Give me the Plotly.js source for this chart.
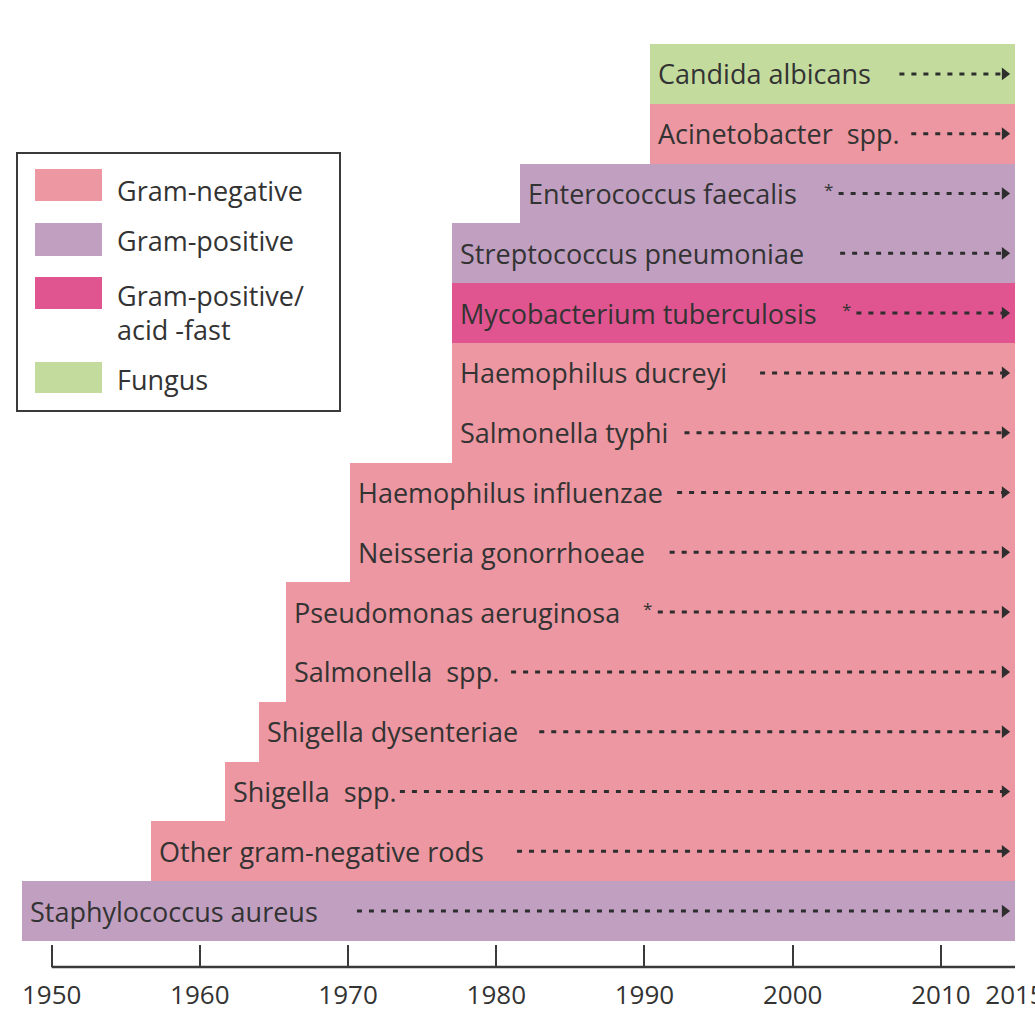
<!DOCTYPE html>
<html>
<head>
<meta charset="utf-8">
<script src="https://cdn.plot.ly/plotly-3.0.1.min.js"></script>
<style>html,body{margin:0;padding:0;background:#fff;overflow:hidden;}#chart{width:1035px;height:1017px;}</style>
</head>
<body>
<div id="chart"></div>
<script>
// ---- data (bottom row first) ----
var organisms = [
  "Staphylococcus aureus",
  "Other gram-negative rods",
  "Shigella\u00a0\u00a0spp.",
  "Shigella dysenteriae",
  "Salmonella\u00a0\u00a0spp.",
  "Pseudomonas aeruginosa",
  "Neisseria gonorrhoeae",
  "Haemophilus influenzae",
  "Salmonella typhi",
  "Haemophilus ducreyi",
  "Mycobacterium tuberculosis",
  "Streptococcus pneumoniae",
  "Enterococcus faecalis",
  "Acinetobacter\u00a0\u00a0spp.",
  "Candida albicans"
];
var groups = ["pos","neg","neg","neg","neg","neg","neg","neg","neg","neg","acid","pos","pos","neg","fungus"];
var startYear = [1948, 1956.7, 1961.7, 1964, 1965.8, 1965.8, 1970.1, 1970.1, 1977, 1977, 1977, 1977, 1981.6, 1990.4, 1990.4];
var endYear = 2015;
var arrowStart = [1970.6, 1981.4, 1973.5, 1982.9, 1981.0, 1990.9, 1991.7, 1992.2, 1992.7, 1997.8, 2004.3, 2003.2, 2003.1, 2008.0, 2007.2];
var asterisk = [false,false,false,false,false,true,false,false,false,false,true,false,true,false,false];
var asteriskYear = [null,null,null,null,null,1990.2,null,null,null,null,2003.6,null,2002.4,null,null];
var arrowEnd = 2014.3;

var groupNames = {neg:"Gram-negative", pos:"Gram-positive", acid:"Gram-positive/<br>acid -fast", fungus:"Fungus"};
var groupOrder = ["neg","pos","acid","fungus"];
var groupColors = {neg:"#ec97a1", pos:"#c19fc1", acid:"#e05590", fungus:"#c3dc9e"};
var tickYears = [1950,1960,1970,1980,1990,2000,2010,2015];

// ---- geometry helpers for layout (pixels -> paper) ----
var W = 1035, H = 1017, ML = 22, MR = 20, MT = 44, MB = 50;
var PW = W - ML - MR, PH = H - MT - MB;
function px(x){ return (x - ML) / PW; }
function py(y){ return (H - MB - y) / PH; }

var FONT = "Open Sans";
var rows = organisms.map(function(_, i){ return i; });
var traces = [];

// bars, one trace per group
groupOrder.forEach(function(g){
  var ys = [], bases = [], lens = [];
  rows.forEach(function(i){
    if (groups[i] === g){ ys.push(i); bases.push(startYear[i]); lens.push(endYear - startYear[i]); }
  });
  traces.push({
    type:"bar", orientation:"h", y:ys, x:lens, base:bases, width:1,
    marker:{color:groupColors[g], line:{width:0}},
    hoverinfo:"skip", showlegend:false
  });
});

// dotted arrows
rows.forEach(function(i){
  traces.push({
    type:"scatter", mode:"lines", x:[arrowStart[i], arrowEnd], y:[i, i],
    line:{color:"#2e2e2e", width:3, dash:"5px,7px"},
    hoverinfo:"skip", showlegend:false
  });
});
traces.push({
  type:"scatter", mode:"markers", x:rows.map(function(){return arrowEnd;}), y:rows,
  marker:{symbol:"triangle-right", size:11, color:"#2e2e2e"},
  hoverinfo:"skip", showlegend:false
});

var annotations = [];
rows.forEach(function(i){
  annotations.push({
    x:startYear[i], y:i, xref:"x", yref:"y", text:organisms[i],
    xanchor:"left", yanchor:"middle", xshift:6, showarrow:false,
    font:{family:FONT, size:27, color:"#333"}
  });
  if (asterisk[i]){
    annotations.push({
      x:asteriskYear[i], y:i, xref:"x", yref:"y", text:"*",
      xanchor:"center", yanchor:"middle", yshift:4, showarrow:false,
      font:{family:FONT, size:17, color:"#333"}
    });
  }
});

// legend (custom box)
var shapes = [];
shapes.push({type:"rect", xref:"paper", yref:"paper", x0:px(17), x1:px(340), y0:py(411), y1:py(153),
  line:{color:"#3a3a3a", width:2}, fillcolor:"#fff", layer:"above"});
var legSw = [[169,201],[223,256],[277,309],[362,393]];
var legTxt = [[190],[241],[295,329],[379]];
groupOrder.forEach(function(g, k){
  shapes.push({type:"rect", xref:"paper", yref:"paper", x0:px(35), x1:px(102), y0:py(legSw[k][1]), y1:py(legSw[k][0]),
    line:{width:0}, fillcolor:groupColors[g], layer:"above"});
  var parts = groupNames[g].split("<br>");
  parts.forEach(function(t, j){
    annotations.push({xref:"paper", yref:"paper", x:px(115), y:py(legTxt[k][j]), text:t,
      xanchor:"left", yanchor:"middle", showarrow:false,
      font:{family:FONT, size:27, color:"#333"}});
  });
});
// axis baseline from first tick to last
shapes.push({type:"line", xref:"x", yref:"paper", x0:tickYears[0], x1:tickYears[tickYears.length-1], y0:0, y1:0,
  line:{color:"#3a3a3a", width:2.5}});

var layout = {
  width:W, height:H,
  margin:{l:ML, r:MR, t:MT, b:MB, pad:0},
  paper_bgcolor:"#fff", plot_bgcolor:"#fff",
  barmode:"overlay", bargap:0,
  showlegend:false,
  xaxis:{
    range:[1948, 2015], showgrid:false, zeroline:false, showline:false,
    tickvals:tickYears, ticktext:tickYears.map(String),
    ticks:"inside", ticklen:22, tickwidth:2, tickcolor:"#3a3a3a",
    ticklabeloverflow:"allow", ticklabelstandoff:10,
    tickfont:{family:FONT, size:26, color:"#333"}, fixedrange:true
  },
  yaxis:{
    range:[-0.935, 14.5], showgrid:false, zeroline:false, showline:false,
    showticklabels:false, ticks:"", fixedrange:true
  },
  shapes:shapes,
  annotations:annotations
};

Plotly.newPlot("chart", traces, layout, {displayModeBar:false, staticPlot:true});
</script>
</body>
</html>
